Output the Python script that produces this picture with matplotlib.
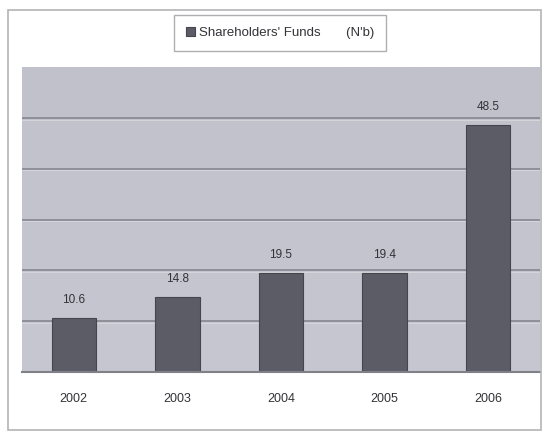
import matplotlib.pyplot as plt
import numpy as np
from matplotlib.patches import Rectangle

# Shareholders' funds by year (N'b)
years = ['2002', '2003', '2004', '2005', '2006']
funds = [10.6, 14.8, 19.5, 19.4, 48.5]

plt.rcParams['font.family'] = ['Liberation Sans', 'DejaVu Sans']

fig = plt.figure(figsize=(5.46, 4.32), dpi=100)
fig.patch.set_facecolor('white')

# thin frame around the whole chart
fig.patches.append(Rectangle((8 / 546, 2 / 432), 533 / 546, 420 / 432,
                             transform=fig.transFigure, fill=False,
                             edgecolor='#b4b4b8', lw=1.2))

ax = fig.add_axes([22 / 546, (432 - 372) / 432, 518 / 546, 305 / 432])

# soft grey gradient background of the plot area
grad = np.linspace(0, 1, 256).reshape(-1, 1)
ax.imshow(grad, extent=[-0.5, 4.5, 0, 60], aspect='auto', origin='lower',
          cmap=plt.matplotlib.colors.LinearSegmentedColormap.from_list(
              'bg', ['#c6c7d0', '#c0c1cb']), zorder=0)

x = np.arange(len(years))
for y in range(10, 60, 10):
    ax.axhline(y, color='#80808a', lw=1.1, zorder=1)
    ax.axhline(y - 0.35, color='#d4d4da', lw=0.8, zorder=1)

bars = ax.bar(x, funds, width=0.43, color='#5c5c66', edgecolor='#45454e',
              lw=0.8, zorder=2)
for xi, v in zip(x, funds):
    ax.text(xi, v + 2.4, f'{v}', ha='center', va='bottom', fontsize=8.5,
            color='#333338')

ax.set_xlim(-0.5, 4.5)
ax.set_ylim(0, 60)
ax.set_xticks(x)
ax.set_xticklabels(years, fontsize=9, color='#333338')
ax.tick_params(axis='x', length=0, pad=15)
ax.set_yticks([])
for s in ['top', 'right', 'left']:
    ax.spines[s].set_visible(False)
ax.spines['bottom'].set_color('#808088')
ax.spines['bottom'].set_linewidth(1.5)

# legend box at the top
leg = ax.legend([bars[0]], ["Shareholders' Funds       (N'b)"],
                loc='center', bbox_to_anchor=(280 / 546, (432 - 33) / 432),
                bbox_transform=fig.transFigure, fontsize=9.5, frameon=True,
                fancybox=False, handlelength=0.7, handleheight=0.7,
                handletextpad=0.3, borderpad=0.9, borderaxespad=0)
leg.get_frame().set_edgecolor('#9a9aa0')
leg.get_frame().set_linewidth(1.0)
for t in leg.get_texts():
    t.set_color('#333338')

fig.savefig('out.png', dpi=100)
